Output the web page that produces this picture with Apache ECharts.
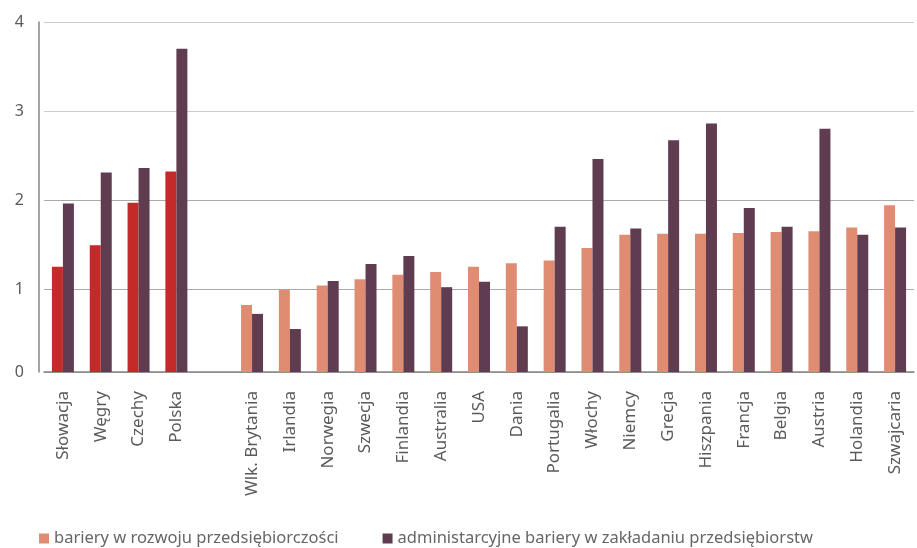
<!DOCTYPE html>
<html>
<head>
<meta charset="utf-8">
<script src="https://cdn.jsdelivr.net/npm/echarts@6/dist/echarts.min.js"></script>
<style>
  html, body { margin: 0; padding: 0; background: #fff; }
  #chart { width: 917px; height: 548px; }
</style>
</head>
<body>
<div id="chart"></div>
<script>
// Countries; the empty entry separates the four regional economies from the rest.
const categories = [
  'Słowacja', 'Węgry', 'Czechy', 'Polska', '',
  'Wlk. Brytania', 'Irlandia', 'Norwegia', 'Szwecja', 'Finlandia', 'Australia',
  'USA', 'Dania', 'Portugalia', 'Włochy', 'Niemcy', 'Grecja', 'Hiszpania',
  'Francja', 'Belgia', 'Austria', 'Holandia', 'Szwajcaria'
];

// bariery w rozwoju przedsiębiorczości
const growthBarriers = [
  1.25, 1.49, 1.97, 2.32, null,
  0.82, 0.99, 1.04, 1.11, 1.16, 1.19,
  1.25, 1.29, 1.32, 1.46, 1.61, 1.62, 1.62,
  1.63, 1.64, 1.65, 1.69, 1.94
];

// administarcyjne bariery w zakładaniu przedsiębiorstw
const startupBarriers = [
  1.96, 2.31, 2.36, 3.70, null,
  0.72, 0.55, 1.09, 1.28, 1.37, 1.02,
  1.08, 0.58, 1.70, 2.46, 1.68, 2.67, 2.86,
  1.91, 1.70, 2.80, 1.61, 1.69
];

const seriesNames = [
  'bariery w rozwoju przedsiębiorczości',
  'administarcyjne bariery w zakładaniu przedsiębiorstw'
];

// Value axis: the category axis line sits slightly above zero, where the "0" label is drawn.
const axisBase = 0.067;
const axisMax = 4;
const yTickValues = [axisBase, 1, 2, 3, 4];

// The first four countries are highlighted in red.
const highlighted = ['Słowacja', 'Węgry', 'Czechy', 'Polska'];

const COLOR_SALMON = '#e08c73';
const COLOR_RED = '#c32a29';
const COLOR_PLUM = '#5f3c4f';
const FONT = '"Noto Sans", "Open Sans", sans-serif';

const chart = echarts.init(document.getElementById('chart'), null, { renderer: 'canvas' });

chart.setOption({
  animation: false,
  backgroundColor: '#ffffff',
  textStyle: { fontFamily: FONT },
  grid: { left: 44, right: 3, top: 22, bottom: 176, containLabel: false },
  legend: {
    left: 39,
    top: 530,
    padding: 0,
    itemWidth: 10,
    itemHeight: 10,
    itemGap: 44,
    icon: 'rect',
    textStyle: { color: '#666666', fontSize: 16.5, fontFamily: FONT },
    data: seriesNames
  },
  xAxis: {
    type: 'category',
    data: categories,
    axisLine: { lineStyle: { color: '#858585', width: 1.5 } },
    axisTick: { show: false },
    axisLabel: {
      rotate: 90,
      margin: 19,
      interval: 0,
      color: '#5a5a5a',
      fontSize: 17,
      fontFamily: FONT
    },
    splitLine: { show: false }
  },
  yAxis: {
    type: 'value',
    min: axisBase,
    max: axisMax,
    offset: 5,
    axisLine: { show: true, lineStyle: { color: '#858585', width: 1.5 } },
    axisTick: { show: false, customValues: yTickValues },
    axisLabel: {
      customValues: yTickValues,
      formatter: v => String(Math.round(v)),
      margin: 15,
      color: '#5a5a5a',
      fontSize: 16,
      fontFamily: FONT
    },
    splitLine: {
      show: true,
      lineStyle: { color: ['#aaaaaa', '#aaaaaa', '#aaaaaa', '#cccccc', '#cccccc'], width: 1.2 }
    }
  },
  series: [
    {
      name: seriesNames[0],
      type: 'bar',
      barWidth: 11,
      barGap: '0%',
      clip: true,
      itemStyle: { color: COLOR_SALMON },
      data: growthBarriers.map((v, i) => ({
        value: v,
        itemStyle: { color: highlighted.includes(categories[i]) ? COLOR_RED : COLOR_SALMON }
      }))
    },
    {
      name: seriesNames[1],
      type: 'bar',
      barWidth: 11,
      barGap: '0%',
      clip: true,
      itemStyle: { color: COLOR_PLUM },
      data: startupBarriers
    }
  ]
});
</script>
</body>
</html>
